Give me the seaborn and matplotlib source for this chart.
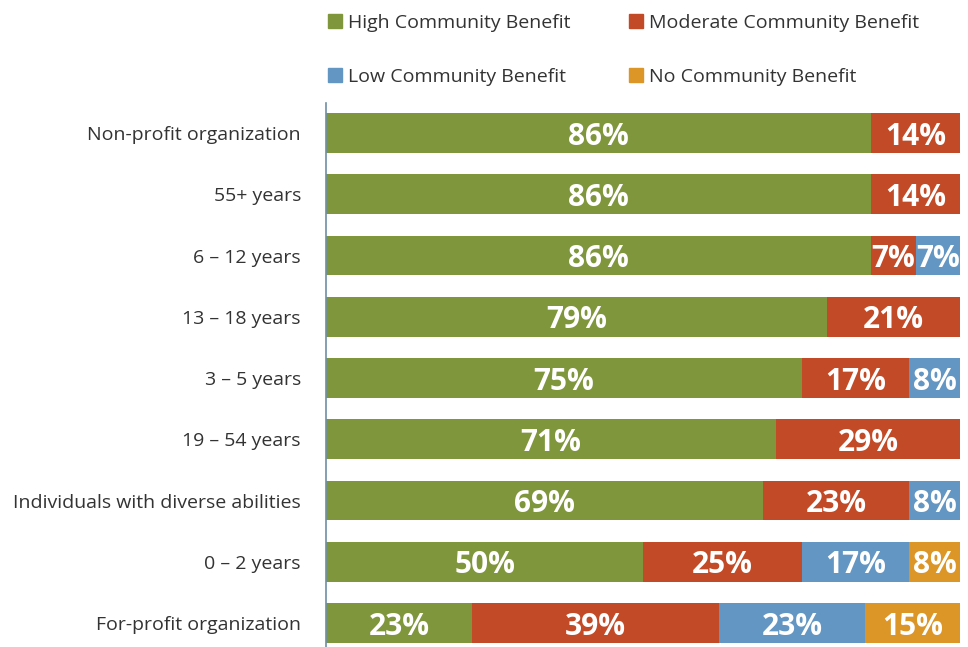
import matplotlib
matplotlib.use("Agg")
import matplotlib.pyplot as plt
import numpy as np
import pandas as pd
import seaborn as sns

# ── Data ──────────────────────────────────────────────────
categories = [
    "Non-profit organization",
    "55+ years",
    "6 – 12 years",
    "13 – 18 years",
    "3 – 5 years",
    "19 – 54 years",
    "Individuals with diverse abilities",
    "0 – 2 years",
    "For-profit organization",
]
high     = [86, 86, 86, 79, 75, 71, 69, 50, 23]
moderate = [14, 14, 7, 21, 17, 29, 23, 25, 39]
low      = [0, 0, 7, 0, 8, 0, 8, 17, 23]
none_    = [0, 0, 0, 0, 0, 0, 0, 8, 15]

series_names = ["High Community Benefit", "Moderate Community Benefit",
                "Low Community Benefit", "No Community Benefit"]
colors = ["#7F963D", "#C24A27", "#6396C2", "#DC9527"]

# ── Style ─────────────────────────────────────────────────
sns.set_style("white")
plt.rcParams["font.family"] = ["Open Sans", "DejaVu Sans"]
TEXT_CLR = "#333333"
SPINE_CLR = "#6F8FA5"

df = pd.DataFrame({"category": categories, "high": high, "moderate": moderate,
                   "low": low, "none": none_})
cols = ["high", "moderate", "low", "none"]
cum = df[cols].cumsum(axis=1)

fig = plt.figure(figsize=(9.68, 6.47), dpi=100)
ax = fig.add_axes([326 / 968, 0, 634 / 968, 1 - 103 / 647])

# draw cumulative totals back to front so each layer shows its own segment
for col, color in reversed(list(zip(cols, colors))):
    sns.barplot(x=cum[col], y=df["category"], orient="h", color=color,
                width=0.65, saturation=1, ax=ax, edgecolor="none")

# segment labels
for i in range(len(df)):
    start = 0
    for col in cols:
        v = df.loc[i, col]
        if v > 0:
            ax.text(start + v / 2, i, f"{v}%", ha="center", va="center_baseline",
                    color="white", fontsize=21.5, fontweight="bold")
        start += v

ax.set_xlim(0, 100)
ax.set_ylim(8.39, -0.49)
ax.set_xlabel("")
ax.set_ylabel("")
ax.set_xticks([])
ax.tick_params(axis="y", length=0, pad=18, labelsize=14, labelcolor=TEXT_CLR)
for s in ["top", "right", "bottom"]:
    ax.spines[s].set_visible(False)
ax.spines["left"].set_color(SPINE_CLR)
ax.spines["left"].set_linewidth(1.2)

handles = [plt.Rectangle((0, 0), 1, 1, color=c) for c in colors]
order = [0, 2, 1, 3]
fig.legend([handles[k] for k in order], [series_names[k] for k in order],
           ncol=2, loc="upper left", bbox_to_anchor=(314 / 968, 1.0),
           frameon=False, fontsize=14, labelcolor=TEXT_CLR,
           handlelength=0.75, handleheight=0.75, handletextpad=0.3,
           columnspacing=3.0, labelspacing=1.86, borderaxespad=0.3)

fig.savefig("out.png", dpi=100)
